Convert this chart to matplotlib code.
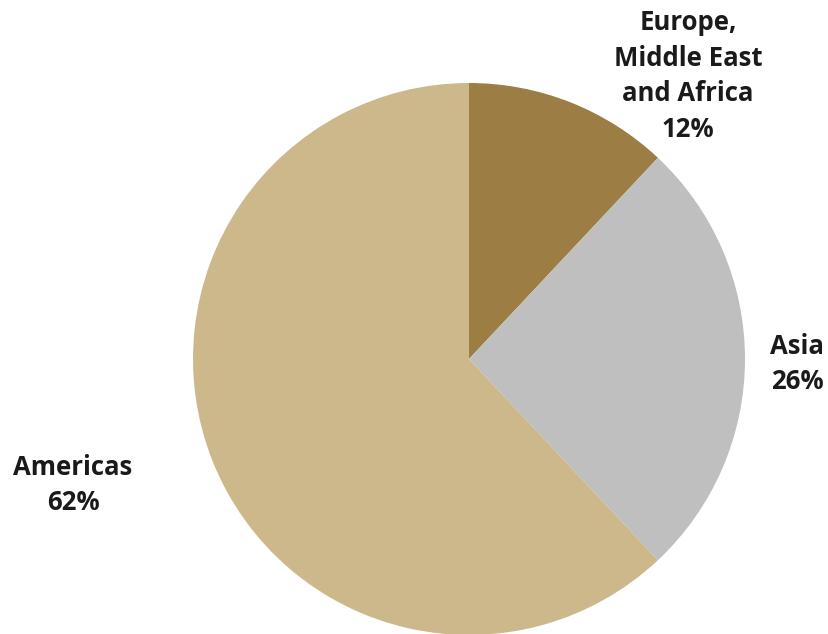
import matplotlib.pyplot as plt

# datos del grafico
regions = ['Europe,\nMiddle East\nand Africa', 'Asia', 'Americas']
shares = [12, 26, 62]
colors = ['#9c7e45', '#bfbfbf', '#cdb88c']

W, H = 829, 634
fig = plt.figure(figsize=(W / 100, H / 100), dpi=100)
ax = fig.add_axes([0, 0, 1, 1])

ax.pie(shares, colors=colors, startangle=90, counterclock=False,
       center=(469, H - 359), radius=276, frame=True,
       wedgeprops={'linewidth': 0})
ax.set_xlim(0, W)
ax.set_ylim(0, H)
ax.set_aspect('equal')
ax.axis('off')

# posiciones de las etiquetas (pixeles)
label_pos = [(688, 76), (797, 364), (73, 485)]
for name, val, (px, py) in zip(regions, shares, label_pos):
    ax.text(px, H - py, f'{name}\n{val}%', ha='center', va='center',
            fontsize=18.5, fontweight='bold', family='Open Sans',
            color='#1a1a1a', linespacing=1.4)

fig.savefig('out.png', dpi=100)
